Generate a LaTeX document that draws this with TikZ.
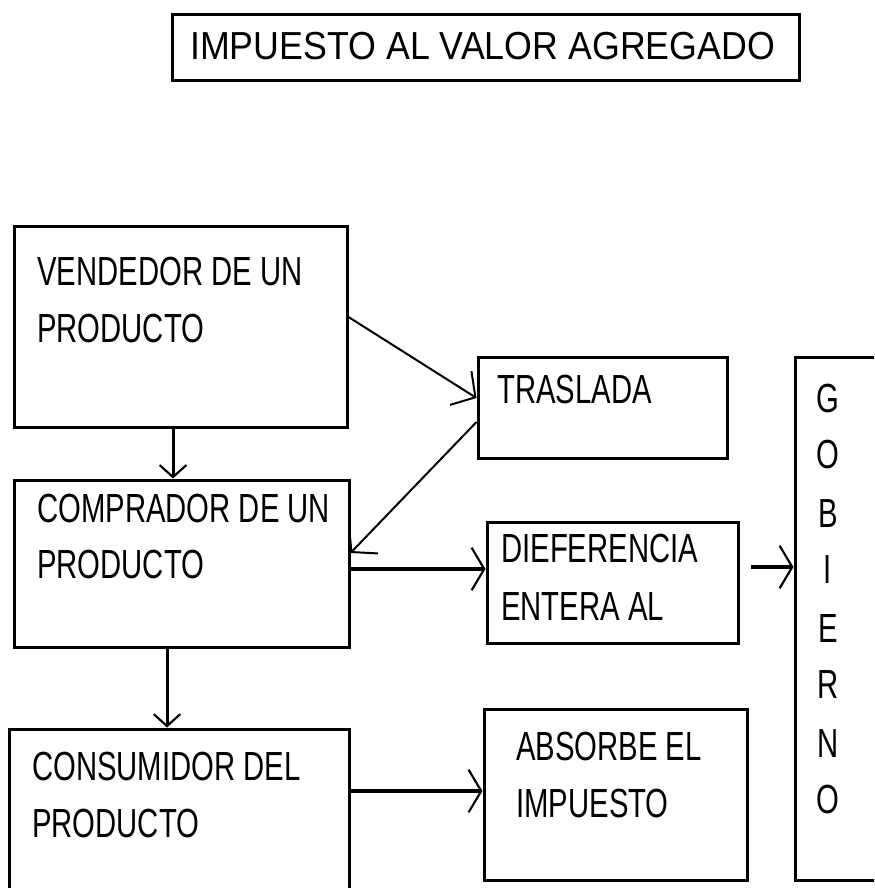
\documentclass[tikz,border=0pt]{standalone}
\usepackage{fontspec}
\usetikzlibrary{arrows.meta}
\newfontfamily\boxfont[FakeStretch=0.72]{Liberation Sans}
\newfontfamily\titlefont[FakeStretch=0.915]{Liberation Sans}
\begin{document}
\begin{tikzpicture}[x=0.75pt,y=-0.75pt,
  box/.style={draw=black,line width=2.25pt,inner sep=0pt,fill=none},
  lbl/.style={anchor=base west,inner sep=0pt,font=\boxfont\fontsize{30.5}{36}\selectfont},
  glet/.style={anchor=base,inner sep=0pt,font=\boxfont\fontsize{30.5}{36}\selectfont},
  harr/.style={line width=3pt,-{Straight Barb[length=9.5pt,width=32pt,line width=1.6pt]}},
  varr/.style={line width=2.25pt,-{Straight Barb[length=9pt,width=20pt,line width=1.6pt]}},
  darr/.style={line width=1.5pt,-{Straight Barb[length=13pt,width=30pt,line width=1.5pt]}}]
\useasboundingbox (0,0) rectangle (874,888);
\clip (0,0) rectangle (874,888);
\fill[white] (0,0) rectangle (874,888);
% boxes
\node[box,minimum width=470.25pt,minimum height=49.5pt] (title) at (485.5,48) {};
\node[box,minimum width=249.75pt,minimum height=150.75pt] (vend) at (180.5,326.5) {};
\node[box,minimum width=251.25pt,minimum height=125.25pt] (comp) at (181.5,563.5) {};
\node[box,minimum width=255pt,minimum height=165.75pt] (cons) at (179,839.5) {};
\node[box,minimum width=186.75pt,minimum height=75.75pt] (tras) at (602.5,407.5) {};
\node[box,minimum width=188.25pt,minimum height=90.75pt] (dife) at (612.5,582.5) {};
\node[box,minimum width=197.25pt,minimum height=128.25pt] (abso) at (615.5,794.5) {};
\node[box,minimum width=78.75pt,minimum height=392.25pt] (gob) at (847.5,618.5) {};
% texts
\node[anchor=base west,inner sep=0pt,font=\titlefont\fontsize{29.3}{34}\selectfont] (ttitle) at (190,60) {IMPUESTO AL VALOR AGREGADO};
\node[lbl] (tv1) at (37,285) {VENDEDOR DE UN};
\node[lbl] (tv2) at (37,342) {PRODUCTO};
\node[lbl] (tc1) at (37,522) {COMPRADOR DE UN};
\node[lbl] (tc2) at (37,578) {PRODUCTO};
\node[lbl] (tn1) at (32,780) {CONSUMIDOR DEL};
\node[lbl] (tn2) at (32,837) {PRODUCTO};
\node[lbl] (tt1) at (497,403) {TRASLADA};
\node[lbl] (td1) at (501,562) {DIEFERENCIA};
\node[lbl] (td2) at (501,620) {ENTERA AL};
\node[lbl] (ta1) at (516,760) {ABSORBE EL};
\node[lbl] (ta2) at (516,817) {IMPUESTO};
\node[glet] (g1) at (828,412) {G};
\node[glet] (g2) at (828,468) {O};
\node[glet] (g3) at (828,527) {B};
\node[glet] (g4) at (828,583) {I};
\node[glet] (g5) at (828,642) {E};
\node[glet] (g6) at (828,698) {R};
\node[glet] (g7) at (828,757) {N};
\node[glet] (g8) at (828,813) {O};
% connectors
\draw[varr] ([xshift=-5.625pt]vend.south) -- ([xshift=-6.375pt]comp.north);
\draw[varr] ([xshift=-10.875pt]comp.south) -- ([xshift=-9pt]cons.north);
\draw[darr] ([yshift=7.125pt]vend.east) -- ([yshift=7.125pt]tras.west);
\draw[darr] ([yshift=-10.875pt]tras.west) -- ([yshift=7.875pt]comp.east);
\coordinate (c1) at ([yshift=-4.125pt]comp.east);
\draw[harr] (c1) -- (c1 -| dife.west);
\coordinate (c2) at ([yshift=36.375pt]cons.east);
\draw[harr] (c2) -- (c2 -| abso.west);
\coordinate (c3) at ([xshift=8.25pt,yshift=11.625pt]dife.east);
\draw[harr] (c3) -- (c3 -| gob.west);
\end{tikzpicture}
\end{document}
